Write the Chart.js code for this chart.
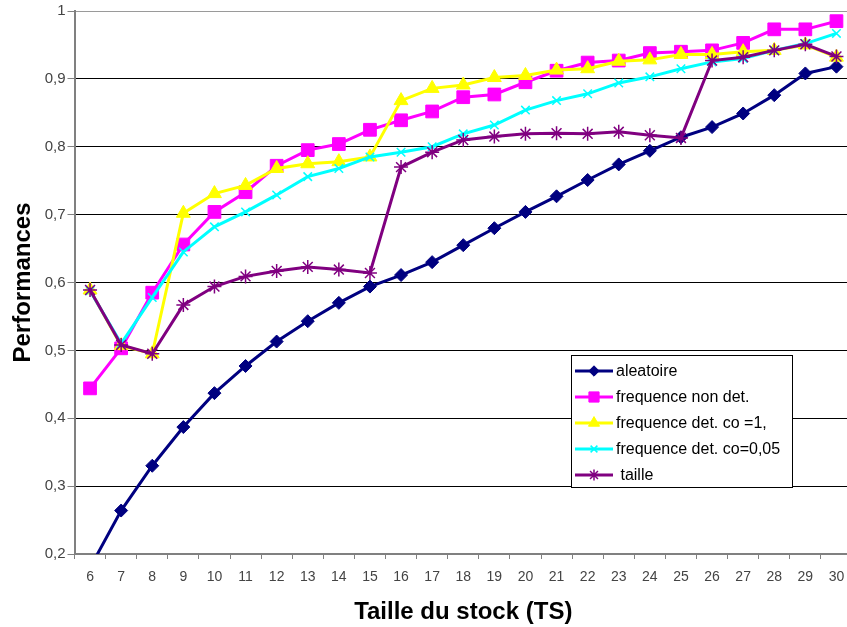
<!DOCTYPE html>
<html>
<head>
<meta charset="utf-8">
<script src="https://cdn.jsdelivr.net/npm/chart.js@4/dist/chart.umd.min.js"></script>
<style>
  html, body { margin: 0; padding: 0; background: #fff; overflow: hidden; }
  canvas { display: block; }
</style>
</head>
<body>
<canvas id="myChart" width="862" height="627"></canvas>
<script>
const categories = ['6', '7', '8', '9', '10', '11', '12', '13', '14', '15', '16', '17', '18',
  '19', '20', '21', '22', '23', '24', '25', '26', '27', '28', '29', '30'];

const aleatoire = [0.18, 0.264, 0.330, 0.387, 0.437, 0.477, 0.513, 0.543, 0.570, 0.594, 0.611,
  0.630, 0.655, 0.680, 0.704, 0.727, 0.751, 0.774, 0.794, 0.814, 0.829, 0.849, 0.876, 0.908, 0.918];
const frequenceNonDet = [0.444, 0.503, 0.585, 0.656, 0.704, 0.733, 0.772, 0.795, 0.804, 0.825,
  0.839, 0.852, 0.873, 0.877, 0.895, 0.912, 0.924, 0.927, 0.938, 0.940, 0.942, 0.953, 0.973, 0.973, 0.985];
const frequenceCo1 = [0.589, 0.507, 0.495, 0.702, 0.731, 0.743, 0.768, 0.775, 0.778, 0.785,
  0.868, 0.886, 0.891, 0.902, 0.905, 0.913, 0.915, 0.926, 0.928, 0.936, 0.936, 0.940, 0.942, 0.950, 0.932];
const frequenceCo005 = [0.588, 0.510, 0.578, 0.645, 0.682, 0.704, 0.729, 0.756, 0.768, 0.785,
  0.792, 0.800, 0.819, 0.832, 0.854, 0.868, 0.878, 0.894, 0.903, 0.915, 0.925, 0.930, 0.942, 0.952, 0.967];
const taille = [0.589, 0.508, 0.495, 0.567, 0.594, 0.609, 0.617, 0.623, 0.619, 0.614,
  0.770, 0.792, 0.810, 0.815, 0.819, 0.820, 0.819, 0.822, 0.817, 0.813, 0.927, 0.932, 0.942, 0.951, 0.933];

const yTicks = [0.2, 0.3, 0.4, 0.5, 0.6, 0.7, 0.8, 0.9, 1];

const FONT = "'Liberation Sans', Arial, sans-serif";

const series = [
  { label: 'aleatoire', data: aleatoire, color: '#000080', point: 'rectRot', radius: 6.5 },
  { label: 'frequence non det.', data: frequenceNonDet, color: '#FF00FF', point: 'rect', radius: 9 },
  { label: 'frequence det. co =1,', data: frequenceCo1, color: '#FFFF00', point: 'triangle', radius: 8 },
  { label: 'frequence det. co=0,05', data: frequenceCo005, color: '#00FFFF', point: 'crossRot', radius: 6 },
  { label: ' taille', data: taille, color: '#800080', point: 'star', radius: 7 }
];

// legend box drawn inside the plot, like the original
const boxLegend = {
  id: 'boxLegend',
  afterDraw(chart) {
    const ctx = chart.ctx;
    const x0 = 571, y0 = 355, w = 221, h = 132;
    ctx.save();
    ctx.fillStyle = '#fff';
    ctx.fillRect(x0, y0, w, h);
    ctx.strokeStyle = '#000';
    ctx.lineWidth = 1;
    ctx.strokeRect(x0 + 0.5, y0 + 0.5, w, h);
    chart.data.datasets.forEach((ds, i) => {
      const y = y0 + 16 + i * 26;
      ctx.strokeStyle = ds.borderColor;
      ctx.lineWidth = 3;
      ctx.beginPath();
      ctx.moveTo(x0 + 4, y);
      ctx.lineTo(x0 + 42, y);
      ctx.stroke();
      ctx.fillStyle = ds.pointBackgroundColor;
      ctx.strokeStyle = ds.pointBorderColor;
      ctx.lineWidth = ds.pointBorderWidth;
      Chart.helpers.drawPoint(ctx, { pointStyle: ds.pointStyle, radius: ds.pointRadius * 0.8, borderWidth: ds.pointBorderWidth }, x0 + 23, y);
      ctx.fillStyle = '#000';
      ctx.font = '16px ' + FONT;
      ctx.textBaseline = 'middle';
      ctx.fillText(ds.label, x0 + 45, y + 1);
    });
    ctx.restore();
  }
};

const ctx = document.getElementById('myChart').getContext('2d');

new Chart(ctx, {
  type: 'line',
  data: {
    labels: categories,
    datasets: series.map((s, i) => ({
      label: s.label,
      data: s.data,
      borderColor: s.color,
      backgroundColor: s.color,
      pointBackgroundColor: s.color,
      pointBorderColor: s.color,
      pointBorderWidth: (s.point === 'crossRot' || s.point === 'star') ? 1.5 : 1,
      pointStyle: s.point,
      pointRadius: s.radius,
      pointHoverRadius: s.radius,
      borderWidth: 3,
      tension: 0,
      order: series.length - 1 - i
    }))
  },
  options: {
    responsive: false,
    animation: false,
    layout: { padding: { top: 11, right: 0, bottom: 0, left: 0 } },
    plugins: {
      legend: { display: false },
      tooltip: { enabled: false }
    },
    scales: {
      x: {
        offset: true,
        afterFit: s => { s.height = 73; s.paddingRight = 0; s.paddingLeft = 0; },
        grid: {
          offset: true,
          drawOnChartArea: false,
          tickLength: 5,
          tickColor: '#808080',
          color: '#808080'
        },
        border: { color: '#808080', width: 2 },
        ticks: {
          color: '#444',
          font: { family: FONT, size: 14 },
          padding: 10,
          maxRotation: 0,
          autoSkip: false
        },
        title: {
          display: true,
          text: 'Taille du stock (TS)',
          color: '#000',
          font: { family: FONT, size: 24, weight: 'bold' },
          padding: { top: 0, bottom: 0 }
        }
      },
      y: {
        min: 0.2,
        max: 1,
        afterFit: s => { s.width = 74.5; },
        afterBuildTicks: s => { s.ticks = yTicks.map(v => ({ value: v })); },
        grid: {
          color: c => (c.tick && c.tick.value === 1) ? '#9a9a9a' : '#000',
          lineWidth: 1,
          tickLength: 7,
          tickColor: '#808080'
        },
        border: { color: '#808080', width: 2 },
        ticks: {
          color: '#444',
          font: { family: FONT, size: 15 },
          padding: 2,
          callback: v => v === 1 ? '1' : v.toFixed(1).replace('.', ',')
        },
        title: {
          display: true,
          text: 'Performances',
          color: '#000',
          font: { family: FONT, size: 24, weight: 'bold' },
          padding: { top: 9, bottom: 0 }
        }
      }
    }
  },
  plugins: [boxLegend]
});
</script>
</body>
</html>
